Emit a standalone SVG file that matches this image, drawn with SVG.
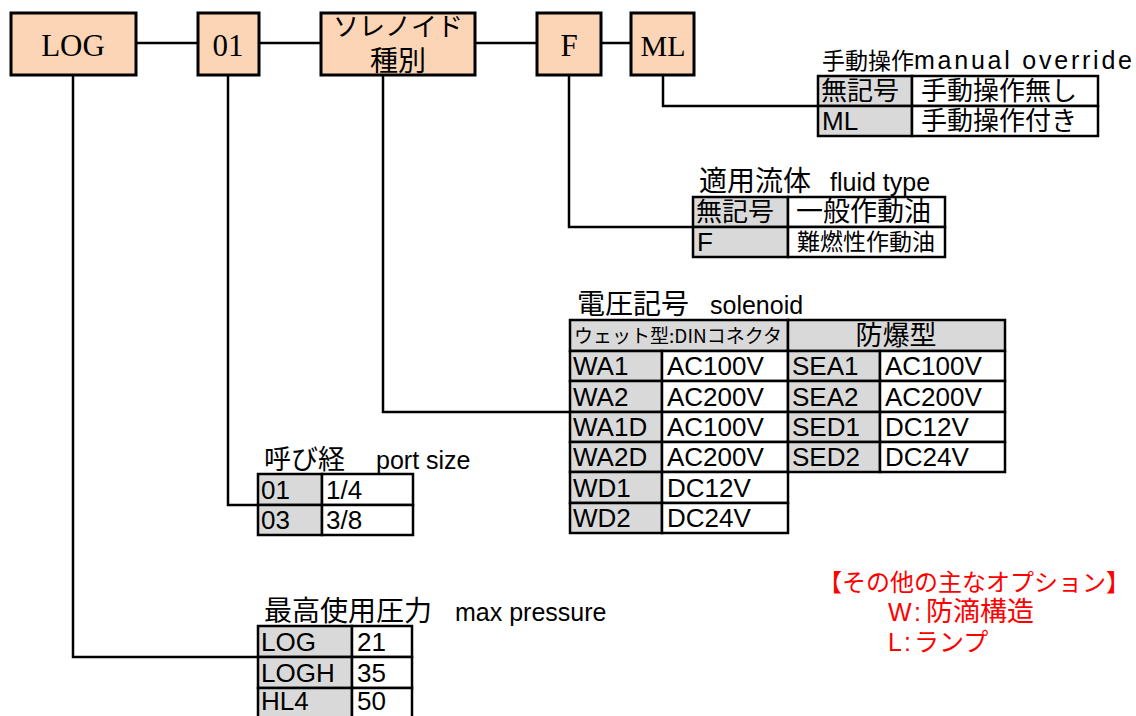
<svg xmlns="http://www.w3.org/2000/svg" width="1136" height="716" viewBox="0 0 1136 716">
<style>
.box{fill:#fbd5b5;stroke:#000;stroke-width:3}
.btxt{font-family:"Liberation Serif","Noto Sans CJK JP",serif;font-size:31px;text-anchor:middle;fill:#000}
.jtxt{font-family:"Noto Sans CJK JP",sans-serif;text-anchor:middle;fill:#000}
.conn{fill:none;stroke:#000;stroke-width:2.5}
.lab{fill:#d9d9d9;stroke:#000;stroke-width:2.5}
.val{fill:#fff;stroke:#000;stroke-width:2.5}
.t{font-family:"Liberation Sans","Noto Sans CJK JP",sans-serif;font-size:26px;fill:#000}
.ttl{font-family:"Liberation Sans","Noto Sans CJK JP",sans-serif;font-size:25px;fill:#000}
.tj{font-family:"Noto Sans CJK JP",sans-serif;font-size:25px;fill:#000}
.red{font-family:"Liberation Sans","Noto Sans CJK JP",sans-serif;font-size:25px;fill:#ff0000}
.s19{font-size:19px}.s23{font-size:23px}.s24{font-size:24px}.s26{font-size:26px}.s27{font-size:27px}.s28{font-size:28px}.s30{font-size:30px}
</style>
<g id="connectors">
<path class="conn" d="M136 43H198M259 43H321M475 43H537M601 43H631"/>
<path class="conn" d="M73 75V657H258"/>
<path class="conn" d="M228 75V505H258"/>
<path class="conn" d="M383 75V412H570"/>
<path class="conn" d="M569 75V227H693"/>
<path class="conn" d="M663 75V106H818"/>
</g>
<g id="node-log"><rect class="box" x="11" y="13" width="125" height="62"/><text class="btxt" x="73" y="56">LOG</text></g>
<g id="node-01"><rect class="box" x="198" y="13" width="61" height="62"/><text class="btxt" x="228" y="56">01</text></g>
<g id="node-solenoid"><rect class="box" x="321" y="13" width="154" height="62"/><text class="jtxt s26" x="398" y="36">ソレノイド</text><text class="jtxt s28" x="398" y="71">種別</text></g>
<g id="node-f"><rect class="box" x="537" y="13" width="64" height="62"/><text class="btxt" x="569" y="56">F</text></g>
<g id="node-ml"><rect class="box" x="631" y="13" width="63" height="62"/><text class="btxt s30" x="663" y="56">ML</text></g>

<g id="table-manual">
<text class="tj s23" x="822" y="69">手動操作</text>
<text class="ttl" x="914" y="69" textLength="218" lengthAdjust="spacing">manual override</text>
<rect class="lab" x="818" y="76" width="94" height="30"/><rect class="val" x="912" y="76" width="186" height="30"/>
<rect class="lab" x="818" y="106" width="94" height="30"/><rect class="val" x="912" y="106" width="186" height="30"/>
<text class="tj s26" x="821" y="100">無記号</text><text class="tj s26" x="921" y="100">手動操作無し</text>
<text class="t" x="822" y="130">ML</text><text class="tj s26" x="921" y="130">手動操作付き</text>
</g>

<g id="table-fluid">
<text class="tj s28" x="699" y="191">適用流体</text>
<text class="ttl" x="830" y="191">fluid type</text>
<rect class="lab" x="693" y="197" width="95" height="30"/><rect class="val" x="788" y="197" width="157" height="30"/>
<rect class="lab" x="693" y="227" width="95" height="30"/><rect class="val" x="788" y="227" width="157" height="30"/>
<text class="tj s26" x="696" y="221">無記号</text><text class="tj s27" x="796" y="221">一般作動油</text>
<text class="t" x="697" y="251">F</text><text class="tj s23" x="797" y="250">難燃性作動油</text>
</g>

<g id="table-solenoid">
<text class="tj s28" x="577" y="314">電圧記号</text>
<text class="ttl" x="710" y="314">solenoid</text>
<rect class="lab" x="570" y="320" width="218" height="31"/><rect class="lab" x="788" y="320" width="217" height="31"/>
<text class="tj s19" x="574" y="343" textLength="208" lengthAdjust="spacingAndGlyphs">ウェット型:DINコネクタ</text>
<text class="jtxt s27" x="896" y="345">防爆型</text>
<rect class="lab" x="570" y="351" width="92" height="30"/><rect class="val" x="662" y="351" width="126" height="30"/><rect class="lab" x="788" y="351" width="92" height="30"/><rect class="val" x="880" y="351" width="125" height="30"/>
<rect class="lab" x="570" y="381" width="92" height="31"/><rect class="val" x="662" y="381" width="126" height="31"/><rect class="lab" x="788" y="381" width="92" height="31"/><rect class="val" x="880" y="381" width="125" height="31"/>
<rect class="lab" x="570" y="412" width="92" height="30"/><rect class="val" x="662" y="412" width="126" height="30"/><rect class="lab" x="788" y="412" width="92" height="30"/><rect class="val" x="880" y="412" width="125" height="30"/>
<rect class="lab" x="570" y="442" width="92" height="30"/><rect class="val" x="662" y="442" width="126" height="30"/><rect class="lab" x="788" y="442" width="92" height="30"/><rect class="val" x="880" y="442" width="125" height="30"/>
<rect class="lab" x="570" y="472" width="92" height="31"/><rect class="val" x="662" y="472" width="126" height="31"/>
<rect class="lab" x="570" y="503" width="92" height="30"/><rect class="val" x="662" y="503" width="126" height="30"/>
<text class="t" x="573" y="375">WA1</text><text class="t" x="667" y="375">AC100V</text><text class="t" x="792" y="375">SEA1</text><text class="t" x="885" y="375">AC100V</text>
<text class="t" x="573" y="406">WA2</text><text class="t" x="667" y="406">AC200V</text><text class="t" x="792" y="406">SEA2</text><text class="t" x="885" y="406">AC200V</text>
<text class="t" x="573" y="436">WA1D</text><text class="t" x="667" y="436">AC100V</text><text class="t" x="792" y="436">SED1</text><text class="t" x="885" y="436">DC12V</text>
<text class="t" x="573" y="466">WA2D</text><text class="t" x="667" y="466">AC200V</text><text class="t" x="792" y="466">SED2</text><text class="t" x="885" y="466">DC24V</text>
<text class="t" x="573" y="497">WD1</text><text class="t" x="667" y="497">DC12V</text>
<text class="t" x="573" y="527">WD2</text><text class="t" x="667" y="527">DC24V</text>
</g>

<g id="table-port">
<text class="tj s27" x="264" y="469">呼び経</text>
<text class="ttl" x="376" y="469">port size</text>
<rect class="lab" x="258" y="474" width="64" height="31"/><rect class="val" x="322" y="474" width="91" height="31"/>
<rect class="lab" x="258" y="505" width="64" height="30"/><rect class="val" x="322" y="505" width="91" height="30"/>
<text class="t" x="261" y="499">01</text><text class="t" x="326" y="499">1/4</text>
<text class="t" x="261" y="529">03</text><text class="t" x="326" y="529">3/8</text>
</g>

<g id="table-pressure">
<text class="tj s28" x="264" y="621">最高使用圧力</text>
<text class="ttl" x="455" y="621">max pressure</text>
<rect class="lab" x="258" y="626" width="94" height="31"/><rect class="val" x="352" y="626" width="60" height="31"/>
<rect class="lab" x="258" y="657" width="94" height="31"/><rect class="val" x="352" y="657" width="60" height="31"/>
<rect class="lab" x="258" y="688" width="94" height="31"/><rect class="val" x="352" y="688" width="60" height="31"/>
<text class="t" x="261" y="651">LOG</text><text class="t" x="357" y="651">21</text>
<text class="t" x="261" y="682">LOGH</text><text class="t" x="357" y="682">35</text>
<text class="t" x="261" y="710">HL4</text><text class="t" x="357" y="710">50</text>
</g>

<g id="options">
<text class="red s24" x="818" y="591">【その他の主なオプション】</text>
<text class="red" y="621"><tspan x="888">W</tspan><tspan x="914">:</tspan><tspan x="926" class="s27">防滴構造</tspan></text>
<text class="red" y="651"><tspan x="888">L</tspan><tspan x="904">:</tspan><tspan x="914">ランプ</tspan></text>
</g>
</svg>
